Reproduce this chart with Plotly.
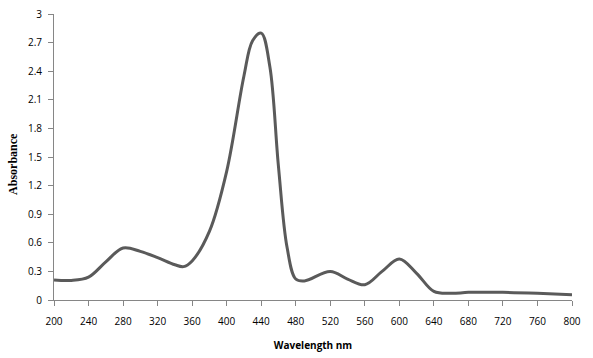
import plotly.graph_objects as go

wavelength = [200, 220, 240, 260, 280, 300, 320, 340, 350, 360, 380, 400, 420, 430, 440, 450,
              460, 470, 480, 490, 520, 540, 560, 580, 600, 620, 640, 660, 680, 720, 760, 800]
absorbance = [0.21, 0.205, 0.24, 0.40, 0.545, 0.51, 0.445, 0.37, 0.35, 0.41, 0.72, 1.35, 2.35, 2.72,
              2.80, 2.45, 1.40, 0.55, 0.22, 0.20, 0.30, 0.22, 0.16, 0.30, 0.43, 0.28, 0.09, 0.07,
              0.08, 0.08, 0.07, 0.055]
x_ticks = list(range(200, 801, 40))
y_ticks = [0, 0.3, 0.6, 0.9, 1.2, 1.5, 1.8, 2.1, 2.4, 2.7, 3]
y_tick_text = ["0", "0.3", "0.6", "0.9", "1.2", "1.5", "1.8", "2.1", "2.4", "2.7", "3"]

fig = go.Figure()
fig.add_trace(go.Scatter(
    x=wavelength, y=absorbance, mode="lines",
    line=dict(color="#5a5a5a", width=3, shape="spline", smoothing=1.0),
    showlegend=False, hoverinfo="skip", cliponaxis=False))

axis_common = dict(
    showline=True, linecolor="#868686", linewidth=1,
    ticks="outside", tickcolor="#868686", ticklen=5, tickwidth=1,
    showgrid=False, zeroline=False, automargin=False,
    tickfont=dict(family="Open Sans", size=10, color="#000000"),
)

fig.update_layout(
    width=593, height=358,
    margin=dict(l=54, r=21, t=14, b=58),
    paper_bgcolor="white", plot_bgcolor="white",
    xaxis=dict(range=[200, 800], tickvals=x_ticks, ticklabelstandoff=7,
               title=dict(text="<b>Wavelength nm</b>",
                          font=dict(family="Open Sans", size=10, color="#000000"), standoff=14),
               **axis_common),
    yaxis=dict(range=[0, 3], tickvals=y_ticks, ticktext=y_tick_text, ticklabelstandoff=4,
               **axis_common),
    annotations=[dict(text="<b>Absorbance</b>", xref="paper", yref="paper",
                      x=-0.079, y=0.476, xanchor="center", yanchor="middle",
                      textangle=-90, showarrow=False,
                      font=dict(family="Liberation Serif", size=12, color="#000000"))],
)

fig.write_html("out.html", config={"displayModeBar": False},
               post_script="document.body.style.margin='0';")
